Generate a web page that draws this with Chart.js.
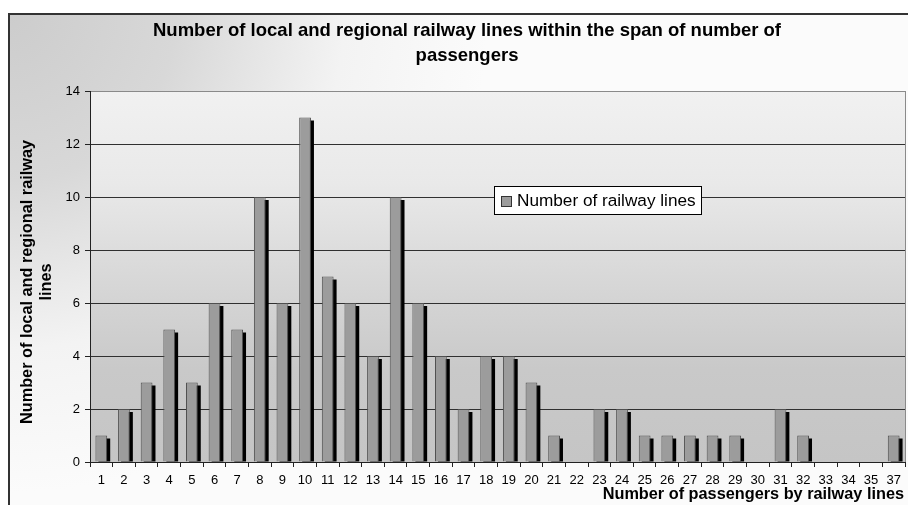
<!DOCTYPE html>
<html>
<head>
<meta charset="utf-8">
<script src="https://cdn.jsdelivr.net/npm/chart.js@4"></script>
<style>
  html, body { margin: 0; padding: 0; background: #ffffff; }
  canvas { display: block; }
</style>
</head>
<body>
<canvas id="chart" width="908" height="505"></canvas>
<script>
// Number of passengers by railway lines (category labels) and how many lines fall in each span
const categories = ['1','2','3','4','5','6','7','8','9','10','11','12','13','14','15','16','17','18',
                    '19','20','21','22','23','24','25','26','27','28','29','30','31','32','33','34','35','37'];
const lineCounts = [1, 2, 3, 5, 3, 6, 5, 10, 6, 13, 7, 6, 4, 10, 6, 4, 2, 4,
                    4, 3, 1, 0, 2, 2, 1, 1, 1, 1, 1, 0, 2, 1, 0, 0, 0, 1];
const yMin = 0;
const yMax = 14;
const yStep = 2;

const seriesLabel = 'Number of railway lines';
const chartTitle = ['Number of local and regional railway lines within the span of number of', 'passengers'];
const yTitle = ['Number of local and regional railway', 'lines'];
const xTitle = 'Number of passengers by railway lines';

const FONT = '"Liberation Sans", Arial, sans-serif';
const BAR_FILL = '#9c9c9c';
const BAR_EDGE = '#505050';

// Backgrounds: outer frame with corner shading and the plot area with vertical shading
const backgroundPlugin = {
  id: 'backgrounds',
  beforeDraw(chart) {
    const ctx = chart.ctx;
    const { width, height } = chart;
    const area = chart.chartArea;
    ctx.save();
    ctx.fillStyle = '#ffffff';
    ctx.fillRect(0, 0, width, height);

    const g = ctx.createRadialGradient(8, 13, 0, 8, 13, 480);
    g.addColorStop(0, '#cccccc');
    g.addColorStop(0.35, '#d8d8d8');
    g.addColorStop(0.7, '#f3f3f3');
    g.addColorStop(1, '#fbfbfb');
    ctx.fillStyle = g;
    ctx.fillRect(8, 13, width - 8, height - 13);

    ctx.strokeStyle = '#333333';
    ctx.lineWidth = 2;
    ctx.beginPath();
    ctx.moveTo(9, height);
    ctx.lineTo(9, 14);
    ctx.lineTo(width, 14);
    ctx.stroke();

    const pg = ctx.createLinearGradient(0, area.top, 0, area.bottom);
    pg.addColorStop(0, '#f1f1f1');
    pg.addColorStop(0.25, '#e9e9e9');
    pg.addColorStop(0.5, '#d8d8d8');
    pg.addColorStop(0.75, '#c9c9c9');
    pg.addColorStop(1, '#c5c5c5');
    ctx.fillStyle = pg;
    ctx.fillRect(area.left, area.top, area.right - area.left, area.bottom - area.top);

    // right edge of plot frame
    ctx.strokeStyle = '#8a8a8a';
    ctx.lineWidth = 1;
    ctx.beginPath();
    ctx.moveTo(Math.round(area.right) + 0.5, area.top);
    ctx.lineTo(Math.round(area.right) + 0.5, area.bottom);
    ctx.stroke();
    ctx.restore();
  }
};

// Black drop shadow to the lower right of each bar
const shadowPlugin = {
  id: 'barShadow',
  beforeDatasetsDraw(chart) {
    const ctx = chart.ctx;
    const meta = chart.getDatasetMeta(0);
    const area = chart.chartArea;
    ctx.save();
    ctx.beginPath();
    ctx.rect(area.left, area.top, area.right - area.left, area.bottom - area.top);
    ctx.clip();
    ctx.fillStyle = '#000000';
    meta.data.forEach((bar, i) => {
      if (!lineCounts[i]) return;
      const p = bar.getProps(['x', 'y', 'base', 'width'], true);
      const left = p.x - p.width / 2 + 3;
      const top = p.y + 3;
      if (p.base > top) ctx.fillRect(left, top, p.width, p.base - top);
    });
    ctx.restore();
  }
};

// Titles and the boxed legend
const textPlugin = {
  id: 'texts',
  afterDraw(chart) {
    const ctx = chart.ctx;
    const area = chart.chartArea;
    ctx.save();
    ctx.fillStyle = '#000000';
    ctx.textBaseline = 'middle';

    ctx.font = 'bold 18.5px ' + FONT;
    ctx.textAlign = 'center';
    chartTitle.forEach((line, i) => ctx.fillText(line, 467, 31 + i * 25));

    ctx.save();
    ctx.translate(28, 282);
    ctx.rotate(-Math.PI / 2);
    ctx.font = 'bold 16.3px ' + FONT;
    yTitle.forEach((line, i) => ctx.fillText(line, 0, i * 18.5));
    ctx.restore();

    ctx.font = 'bold 16.3px ' + FONT;
    ctx.textAlign = 'right';
    ctx.fillText(xTitle, area.right - 1, 495);

    // legend
    const lx = 494.5, ly = 186.5, lw = 207, lh = 28;
    ctx.fillStyle = '#ffffff';
    ctx.fillRect(lx, ly, lw, lh);
    ctx.strokeStyle = '#000000';
    ctx.lineWidth = 1;
    ctx.strokeRect(lx, ly, lw, lh);
    const ds = chart.data.datasets[0];
    ctx.fillStyle = ds.backgroundColor;
    ctx.fillRect(501.5, 196.5, 10, 10);
    ctx.strokeStyle = '#333333';
    ctx.strokeRect(501.5, 196.5, 10, 10);
    ctx.fillStyle = '#000000';
    ctx.textAlign = 'left';
    ctx.font = '17.2px ' + FONT;
    ctx.fillText(ds.label, 517, 201.5);
    ctx.restore();
  }
};

new Chart(document.getElementById('chart'), {
  type: 'bar',
  data: {
    labels: categories,
    datasets: [{
      label: seriesLabel,
      data: lineCounts,
      backgroundColor: BAR_FILL,
      borderColor: BAR_EDGE,
      borderWidth: ctx => (ctx.raw ? 1 : 0),
      borderSkipped: 'bottom',
      categoryPercentage: 1,
      barPercentage: 0.52
    }]
  },
  options: {
    responsive: false,
    devicePixelRatio: 1,
    animation: false,
    events: [],
    layout: { padding: { top: 91, right: 3, left: 0, bottom: 0 } },
    plugins: {
      legend: { display: false },
      title: { display: false },
      tooltip: { enabled: false }
    },
    scales: {
      x: {
        offset: true,
        grid: {
          display: true,
          offset: true,
          drawOnChartArea: false,
          drawTicks: true,
          tickLength: 5,
          color: '#222222'
        },
        border: { display: true, color: '#222222', width: 1 },
        ticks: {
          autoSkip: false,
          maxRotation: 0,
          minRotation: 0,
          padding: 6,
          color: '#000000',
          font: { family: FONT, size: 13 }
        },
        afterFit(scale) { scale.height = 43; }
      },
      y: {
        min: yMin,
        max: yMax,
        ticks: {
          stepSize: yStep,
          padding: 5,
          color: '#000000',
          font: { family: FONT, size: 13 }
        },
        grid: {
          drawTicks: true,
          tickLength: 5,
          color: ctx => (ctx.tick && ctx.tick.value === yMax ? '#8a8a8a' : '#303030'),
          tickColor: '#222222'
        },
        border: { display: true, color: '#222222', width: 1 },
        afterFit(scale) { scale.width = 90; }
      }
    }
  },
  plugins: [backgroundPlugin, shadowPlugin, textPlugin]
});
</script>
</body>
</html>
